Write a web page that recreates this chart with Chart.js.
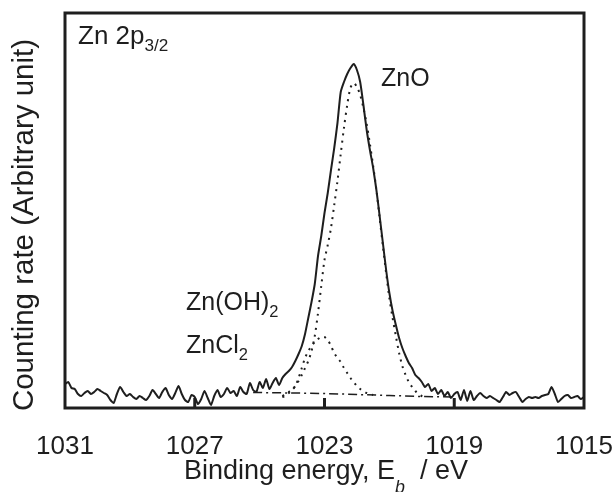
<!DOCTYPE html>
<html>
<head>
<meta charset="utf-8">
<script src="https://cdn.jsdelivr.net/npm/chart.js@4.4.1/dist/chart.umd.min.js"></script>
<style>
  html, body { margin: 0; padding: 0; background: #ffffff; }
  #wrap { width: 614px; height: 492px; }
</style>
</head>
<body>
<div id="wrap"><canvas id="c" width="614" height="492"></canvas></div>
<script>
// ---------------- data ----------------
// x axis: binding energy (eV), reversed; y axis: arbitrary counting rate
const xTicks = [1031, 1027, 1023, 1019, 1015];

// measured spectrum, sampled every 0.1 eV from 1031.0 down to 1015.0
const measuredStart = 1031.0;
const measuredStep = 0.1;
const measuredValues = [
  24,26,20,19,14,12,15,17,14,16,
  19,17,15,13,8,5,14,21,16,12,
  14,11,9,12,10,8,12,18,14,10,
  16,20,13,9,15,22,14,8,6,13,
  11,4,9,17,10,3,12,18,11,14,
  20,15,17,12,21,16,14,25,18,16,
  26,20,29,19,25,30,23,30,34,37,
  41,47,54,62,74,90,106,124,152,172,
  195,215,238,260,285,316,326,334,340,344,
  338,326,303,278,258,240,218,192,165,138,
  115,97,83,70,60,52,45,40,33,30,
  26,21,24,17,20,14,18,12,16,10,
  14,
  16,8,18,7,17,8,12,15,12,10,
  12,10,8,6,11,16,13,15,16,11,
  6,9,11,10,11,10,12,13,14,21,
  14,6,9,12,13,10,11,12,9,11
];

// ZnO fitted component, every 0.1 eV from 1024.3 down to 1019.9
const znoStart = 1024.3;
const znoValues = [
  12,14,16,18,22,27,33,40,47,57,
  72,95,122,148,163,180,203,227,254,280,
  303,320,325,321,313,300,284,264,242,218,
  190,162,135,110,90,72,55,42,33,26,
  21,17,14,12,11
];

// Zn(OH)2 / ZnCl2 fitted component, every 0.1 eV from 1024.3 down to 1021.5
const minorStart = 1024.3;
const minorValues = [
  11,12,15,18,22,30,40,50,57,62,
  66,69,71,71,68,62,55,50,46,40,
  35,30,26,22,19,17,15,14,13
];

// background line
const bgEnergy = [1025.2, 1024.0, 1023.0, 1022.0, 1021.0, 1020.0, 1019.0];
const bgValues = [15.5, 15, 14.5, 13.5, 12.5, 11.5, 11];

// ---------------- build point lists ----------------
function toPoints(start, step, vals) {
  return vals.map((v, i) => ({ x: +(start - i * step).toFixed(2), y: v }));
}
const measuredPts = toPoints(measuredStart, measuredStep, measuredValues);
const znoPts = toPoints(znoStart, measuredStep, znoValues);
const minorPts = toPoints(minorStart, measuredStep, minorValues);
const bgPts = bgEnergy.map((e, i) => ({ x: e, y: bgValues[i] }));

const FONT = '"Liberation Sans", Arial, Helvetica, sans-serif';
const INK = '#1e1e1e';

// draw a run of text pieces with optional subscripts / italics
function drawRich(ctx, parts, x, y, align, size) {
  const widths = parts.map(p => {
    const s = p.sub ? size * 0.66 : size;
    ctx.font = (p.italic ? 'italic ' : '') + s + 'px ' + FONT;
    return ctx.measureText(p.t).width;
  });
  const total = widths.reduce((a, b) => a + b, 0);
  let cx = align === 'center' ? x - total / 2 : x;
  parts.forEach((p, i) => {
    const s = p.sub ? size * 0.66 : size;
    ctx.font = (p.italic ? 'italic ' : '') + s + 'px ' + FONT;
    ctx.textAlign = 'left';
    ctx.textBaseline = 'alphabetic';
    const drop = p.sub ? (p.drop !== undefined ? p.drop : size * 0.28) : 0;
    ctx.fillText(p.t, cx, y + drop);
    cx += widths[i];
  });
}

const decorPlugin = {
  id: 'decor',
  afterDatasetsDraw(chart) {
    const { ctx, chartArea: a, scales: { x } } = chart;
    ctx.save();
    ctx.strokeStyle = INK;
    ctx.fillStyle = INK;
    ctx.lineWidth = 3;
    ctx.strokeRect(a.left, a.top, a.right - a.left, a.bottom - a.top);
    // inward tick marks on the bottom axis
    xTicks.slice(1, -1).forEach(v => {
      const px = x.getPixelForValue(v);
      ctx.beginPath();
      ctx.moveTo(px, a.bottom);
      ctx.lineTo(px, a.bottom - 10);
      ctx.stroke();
    });
    // annotations
    drawRich(ctx, [{ t: 'Zn 2p' }, { t: '3/2', sub: true }], 78, 44, 'left', 26);
    drawRich(ctx, [{ t: 'ZnO' }], 381, 86, 'left', 25);
    drawRich(ctx, [{ t: 'Zn(OH)' }, { t: '2', sub: true }], 186, 310, 'left', 25);
    drawRich(ctx, [{ t: 'ZnCl' }, { t: '2', sub: true }], 186, 353, 'left', 25);
    // x axis title
    drawRich(ctx, [{ t: 'Binding energy, E' }, { t: 'b', sub: true, italic: true, drop: 14 }, { t: '  / eV' }], 326, 479, 'center', 27);
    // y axis title
    ctx.translate(33, 225);
    ctx.rotate(-Math.PI / 2);
    ctx.font = '29.5px ' + FONT;
    ctx.textAlign = 'center';
    ctx.textBaseline = 'alphabetic';
    ctx.fillText('Counting rate (Arbitrary unit)', 0, 0);
    ctx.restore();
  }
};

new Chart(document.getElementById('c'), {
  type: 'scatter',
  data: {
    datasets: [
      { label: 'measured', data: measuredPts, showLine: true, borderColor: INK, borderWidth: 2, pointRadius: 0, tension: 0.2 },
      { label: 'ZnO', data: znoPts, showLine: true, borderColor: INK, borderWidth: 2, borderDash: [2, 5], pointRadius: 0, tension: 0.3 },
      { label: 'Zn(OH)2 / ZnCl2', data: minorPts, showLine: true, borderColor: INK, borderWidth: 2, borderDash: [2, 5], pointRadius: 0, tension: 0.3 },
      { label: 'background', data: bgPts, showLine: true, borderColor: INK, borderWidth: 1.5, borderDash: [9, 4, 2, 4], pointRadius: 0, tension: 0 }
    ]
  },
  options: {
    responsive: false,
    animation: false,
    layout: { padding: { left: 65, right: 30, top: 13, bottom: 0 } },
    plugins: { legend: { display: false }, tooltip: { enabled: false } },
    scales: {
      x: {
        type: 'linear',
        reverse: true,
        min: 1015,
        max: 1031,
        afterBuildTicks(scale) { scale.ticks = xTicks.map(v => ({ value: v })); },
        ticks: { color: INK, font: { family: FONT, size: 26 }, padding: 23, maxRotation: 0, autoSkip: false,
                 callback: v => String(v) },
        grid: { display: false, drawTicks: false },
        border: { display: false },
        afterFit(scale) { scale.height = 84; scale.paddingLeft = 0; scale.paddingRight = 0; }
      },
      y: {
        display: false,
        min: 0,
        max: 395
      }
    }
  },
  plugins: [decorPlugin]
});
</script>
</body>
</html>
